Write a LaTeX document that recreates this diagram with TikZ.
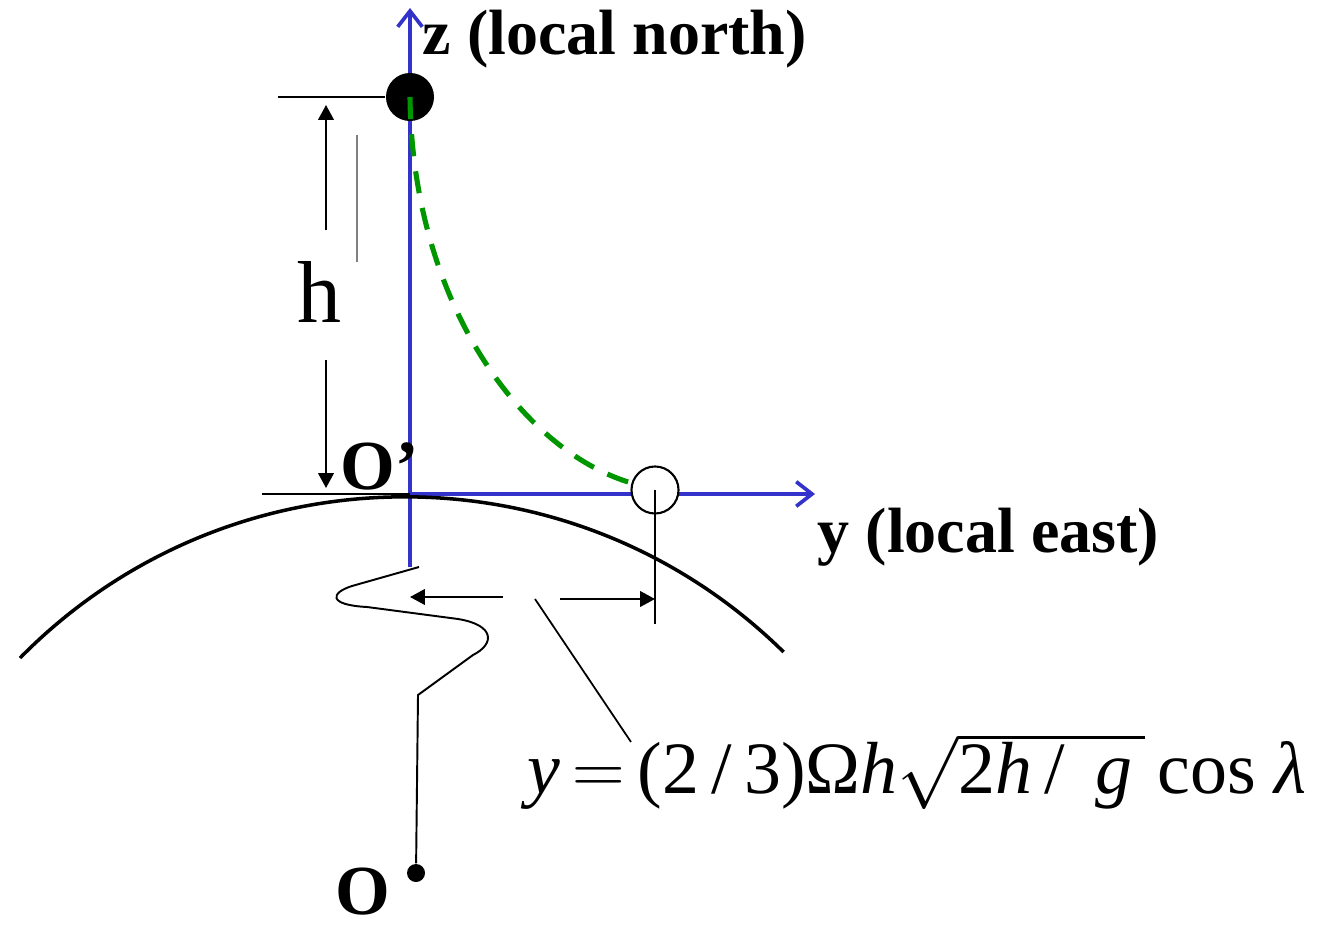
\documentclass[tikz,border=0pt]{standalone}
\usepackage{fontspec}
\setmainfont{Liberation Serif}
\usetikzlibrary{arrows.meta, positioning}
\definecolor{axisblue}{RGB}{51,51,204}
\definecolor{fallgreen}{RGB}{0,150,0}

\begin{document}
\begin{tikzpicture}[>=Stealth, x=0.01cm, y=0.01cm,
    axis/.style={axisblue, line width=1.05pt, -{Straight Barb[length=4.5pt, width=7pt]}},
    dim/.style={black, line width=0.55pt, -{Triangle[length=4.2pt, width=4.4pt]}},
    fall/.style={fallgreen, line width=1.45pt, dash pattern=on 6.3pt off 4.3pt},
    lbl/.style={inner sep=0pt, anchor=base west, font=\fontsize{18.2}{20}\selectfont\bfseries}]
  \useasboundingbox (0,0) rectangle (1325,924);

  % Points
  \coordinate (Op) at (410,430);
  \coordinate (zlow) at (410,357);
  \coordinate (ztop) at (410,916);
  \coordinate (yend) at (815,430);

  % Axes
  \draw[axis] (zlow) -- (ztop);
  \draw[axis] (Op) -- (yend);

  % Earth surface
  \draw[line width=1pt] (20,266) arc[start angle=135.45, end angle=45.45, radius=540];

  % Reference lines
  \coordinate (topleft) at (278,827);
  \coordinate (botleft) at (262,430);
  \draw[line width=0.55pt] (botleft) -- (Op);

  % Released mass and landing point
  \node[circle, fill=black, minimum size=0.48cm, inner sep=0pt] (ball) at (410,827) {};
  \draw[line width=0.55pt] (topleft) -- (ball.west);
  \node[circle, draw, fill=white, line width=0.6pt, minimum size=0.47cm, inner sep=0pt] (landing) at (655,434) {};
  \draw[fall] (ball.center) .. controls (412,624) and (520,474) .. (landing);

  % Height h
  \node[inner sep=0pt, anchor=base, font=\fontsize{25}{28}\selectfont] (hlabel) at (319,601) {h};
  \coordinate (hup0) at (326,694);
  \coordinate (hup1) at (326,819);
  \coordinate (hdn0) at (326,564);
  \coordinate (hdn1) at (326,436);
  \draw[dim] (hup0) -- (hup1);
  \draw[dim] (hdn0) -- (hdn1);
  \draw[gray, line width=0.45pt] (357,789) -- (357,662);

  % Deflection
  \coordinate (tickend) at (655,300);
  \draw[line width=0.55pt] (landing.center) -- (tickend);
  \coordinate (gapl) at (503,327);
  \coordinate (zline) at (410,327);
  \coordinate (gapr) at (560,325);
  \coordinate (tickmid) at (655,325);
  \draw[dim] (gapl) -- (zline);
  \draw[dim] (gapr) -- (tickmid);

  % Break to the centre
  \node[circle, fill=black, minimum size=0.18cm, inner sep=0pt] (centre) at (416,51) {};
  \draw[line width=0.55pt] (419,357) -- (352,338) .. controls (330,331) and (328,319) .. (367,317)
    -- (458,305) .. controls (495,299) and (495,280) .. (473,269) -- (418,229) -- (centre);

  % Labels
  \node[lbl] (zlabel) at (422,869) {z (local north)};
  \node[lbl] (ylabel) at (817,372) {y (local east)};
  \node[lbl, font=\fontsize{20}{22}\selectfont\bfseries] (Oplabel) at (340,434) {O’};
  \node[lbl, font=\fontsize{20}{22}\selectfont\bfseries] (Olabel) at (335,10) {O};

  % Formula
  \node[inner sep=0pt, anchor=base west, font=\fontsize{21}{24}\selectfont] (formula) at (527,131)
    {\textit{y}\,$=$\,(2\,/\,3)Ω\textit{h}$\sqrt{\hbox{2\textit{h}\,/\, \textit{g}\,}}$\,cos\ \textit{λ}};
  \coordinate (leadtop) at (535,325);
  \coordinate (leadbot) at (631,182);
  \draw[line width=0.5pt] (leadtop) -- (leadbot);
\end{tikzpicture}
\end{document}
